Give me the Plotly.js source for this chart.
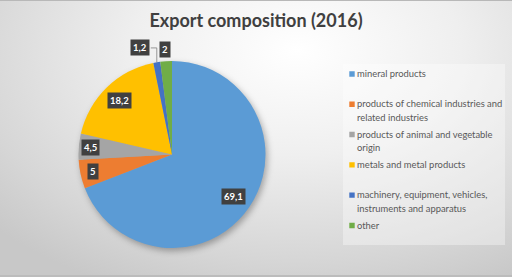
<!DOCTYPE html>
<html><head><meta charset="utf-8">
<script src="https://cdn.plot.ly/plotly-3.0.1.min.js"></script>
<style>
html,body{margin:0;padding:0;background:#fff;}
#chart{width:512px;height:277px;background:radial-gradient(ellipse 80% 95% at 58% 18%, #ffffff 0%, #efefef 40%, #d6d6d6 80%, #c8c8c8 100%);box-shadow: inset 0 1px 0 #b8b8b8, inset 0 -2px 0 #bcbcbc;}
.pielayer{filter:drop-shadow(2px 3px 3px rgba(0,0,0,0.3));}
</style></head><body><div id="chart"></div>
<script>
const categories = [
  'mineral products',
  'products of chemical industries and related industries',
  'products of animal and vegetable origin',
  'metals and metal products',
  'machinery, equipment, vehicles, instruments and apparatus',
  'other'
];
const values = [69.1, 5, 4.5, 18.2, 1.2, 2];
const colors = ['#5B9BD5', '#ED7D31', '#A5A5A5', '#FFC000', '#4472C4', '#70AD47'];
const chartTitle = 'Export composition (2016)';

const W = 512, H = 277;
const cx = 172, cy = 154.5, r = 93.5;

function wrap(s, n) {
  const words = s.split(' ');
  const lines = [];
  let cur = '';
  words.forEach(w => {
    if (cur && (cur + ' ' + w).length > n) { lines.push(cur); cur = w; }
    else cur = cur ? cur + ' ' + w : w;
  });
  lines.push(cur);
  if (lines.length === 1) lines.push('\u00a0');
  return lines.map(l => '<span style="font-size:9.4px">' + l + '</span>').join('<br>');
}
const legendLabels = categories.map(c => wrap(c, 35));

const px = x => x / W;
const py = y => 1 - y / H;

const total = values.reduce((a, b) => a + b, 0);
const annotations = [];
const shapes = [{
  type: 'rect', xref: 'paper', yref: 'paper', layer: 'below',
  x0: px(343), x1: px(505), y0: py(245), y1: py(64),
  fillcolor: 'rgba(255,255,255,0.35)', line: {width: 0}
}];
let cum = 0;
values.forEach((v, i) => {
  const frac = v / total;
  const mid = (cum + v / 2) / total * 2 * Math.PI;
  cum += v;
  const ux = Math.sin(mid), uy = -Math.cos(mid);
  const txt = String(v).replace('.', ',');
  const base = {
    xref: 'paper', yref: 'paper', text: '<b>' + txt + '</b>', showarrow: false,
    bgcolor: '#404040', font: {family: 'Lato', size: 9.5, color: '#ffffff'},
    borderpad: 2, xanchor: 'center', yanchor: 'middle'
  };
  if (frac < 0.015) {
    const ax = cx + r * ux, ay = cy + r * uy;
    const lx = ax - 17, ly = cy - r * 1.14;
    annotations.push(Object.assign({}, base, {x: px(lx), y: py(ly)}));
    shapes.push({
      type: 'path', xref: 'paper', yref: 'paper',
      path: `M ${px(lx + 11)},${py(ly)} H ${px(ax)} V ${py(ay)}`,
      line: {color: '#7f7f7f', width: 0.8}
    });
  } else {
    const d = frac < 0.03 ? 1.12 * r : (frac < 0.1 ? 0.87 * r : 0.8 * r);
    annotations.push(Object.assign({}, base, {x: px(cx + d * ux), y: py(cy + d * uy)}));
  }
});

const data = [{
  type: 'pie',
  labels: legendLabels,
  values: values,
  sort: false,
  direction: 'clockwise',
  rotation: 0,
  textinfo: 'none',
  hoverinfo: 'label+value',
  marker: {colors: colors, line: {color: '#ffffff', width: 0}},
  domain: {x: [px(cx - r), px(cx + r)], y: [py(cy + r), py(cy - r)]}
}];

const layout = {
  width: W, height: H,
  margin: {l: 0, r: 0, t: 0, b: 0, autoexpand: false},
  paper_bgcolor: 'rgba(0,0,0,0)',
  plot_bgcolor: 'rgba(0,0,0,0)',
  title: {
    text: '<b>' + chartTitle + '</b>',
    font: {family: 'Lato', size: 18, color: '#404040'},
    x: 0.5, xanchor: 'center', xref: 'paper',
    y: py(21), yanchor: 'middle', yref: 'paper'
  },
  showlegend: true,
  legend: {
    x: px(317), xanchor: 'left', y: py(59.6), yanchor: 'top',
    bgcolor: 'rgba(0,0,0,0)', borderwidth: 0,
    font: {family: 'Lato', size: 10.5, color: '#595959'},
    valign: 'top', traceorder: 'normal'
  },
  annotations: annotations,
  shapes: shapes
};

Plotly.newPlot('chart', data, layout, {displayModeBar: false, staticPlot: true}).then(gd => {
  gd.querySelectorAll('.legend .legendpoints').forEach(g => {
    g.setAttribute('transform', 'translate(26,1) scale(0.45)');
  });
});
</script>
</body></html>
